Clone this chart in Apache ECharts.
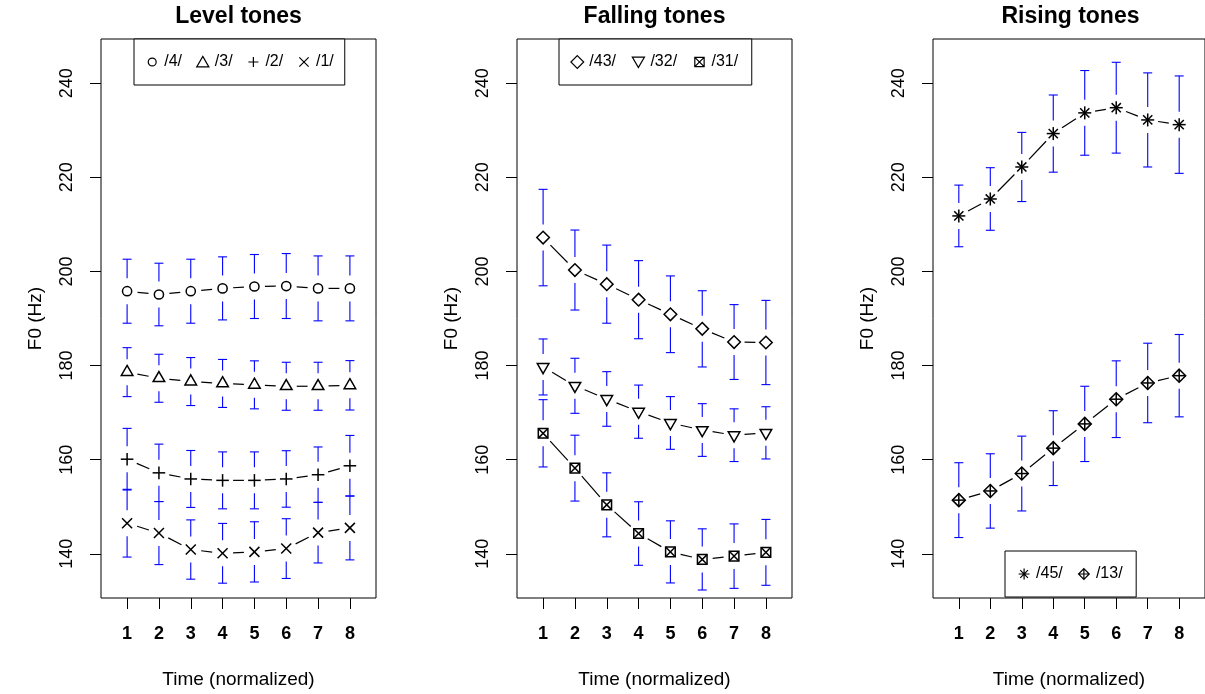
<!DOCTYPE html>
<html><head><meta charset="utf-8">
<script src="https://cdn.jsdelivr.net/npm/echarts@6/dist/echarts.min.js"></script>
<style>html,body{margin:0;padding:0;background:#fff}#c{width:1205px;height:694px}</style>
</head><body><div id="c"></div>
<script>
// ---------- data ----------
const time = [1, 2, 3, 4, 5, 6, 7, 8];
const yTicks = [140, 160, 180, 200, 220, 240];
const panelTitles = ['Level tones', 'Falling tones', 'Rising tones'];
const xAxisTitle = 'Time (normalized)';
const yAxisTitle = 'F0 (Hz)';

// Level tones
const tone4Mean = [195.8, 195.1, 195.8, 196.4, 196.8, 196.9, 196.4, 196.4];
const tone4Err  = [6.8, 6.65, 6.8, 6.7, 6.8, 6.9, 6.9, 6.9];
const tone3Mean = [178.6, 177.3, 176.6, 176.2, 175.9, 175.6, 175.6, 175.8];
const tone3Err  = [5.2, 5.1, 5.1, 5.1, 5.1, 5.1, 5.1, 5.25];
const tone2Mean = [160.1, 157.2, 155.9, 155.6, 155.6, 155.9, 156.8, 158.7];
const tone2Err  = [6.55, 6.1, 6.05, 6.05, 6.05, 6.0, 5.9, 6.45];
const tone1Mean = [146.5, 144.4, 140.9, 140.1, 140.4, 141.1, 144.5, 145.5];
const tone1Err  = [7.2, 6.7, 6.3, 6.35, 6.4, 6.35, 6.45, 6.8];
// Falling tones
const tone43Mean = [207.2, 200.3, 197.3, 194.0, 190.9, 187.8, 185.0, 184.9];
const tone43Err  = [10.25, 8.5, 8.3, 8.3, 8.15, 8.1, 7.95, 8.95];
const tone32Mean = [179.7, 175.7, 172.9, 170.2, 167.8, 166.3, 165.2, 165.7];
const tone32Err  = [5.95, 5.85, 5.8, 5.65, 5.6, 5.6, 5.6, 5.55];
const tone31Mean = [165.6, 158.2, 150.4, 144.3, 140.4, 138.8, 139.5, 140.3];
const tone31Err  = [7.15, 7.0, 6.8, 6.75, 6.6, 6.5, 6.85, 7.0];
// Rising tones
const tone45Mean = [211.8, 215.4, 222.2, 229.3, 233.7, 234.8, 232.2, 231.2];
const tone45Err  = [6.55, 6.65, 7.35, 8.2, 9.0, 9.65, 10.0, 10.35];
const tone13Mean = [151.4, 153.35, 157.05, 162.45, 167.6, 172.85, 176.3, 177.85];
const tone13Err  = [7.95, 7.9, 7.95, 7.95, 8.0, 8.15, 8.45, 8.75];

const toneNames = [
  ['/4/', '/3/', '/2/', '/1/'],
  ['/43/', '/32/', '/31/'],
  ['/45/', '/13/']
];

// ---------- styling / layout ----------
const FONT = '"Liberation Sans", Arial, Helvetica, sans-serif';
const gridLeft = [101, 517, 933];
const GRID_TOP = 39, GRID_W = 275, GRID_H = 559;
const X_MIN = 0.18, X_MAX = 8.82, Y_MIN = 130.6, Y_MAX = 249.4;
const ERR_GAP = 13, CAP = 4.5, LINE_GAP = 10.5;

const toneDefs = [
  {name: toneNames[0][0], panel: 0, mean: tone4Mean, err: tone4Err, marker: 'circle'},
  {name: toneNames[0][1], panel: 0, mean: tone3Mean, err: tone3Err, marker: 'triUp'},
  {name: toneNames[0][2], panel: 0, mean: tone2Mean, err: tone2Err, marker: 'plus'},
  {name: toneNames[0][3], panel: 0, mean: tone1Mean, err: tone1Err, marker: 'cross'},
  {name: toneNames[1][0], panel: 1, mean: tone43Mean, err: tone43Err, marker: 'diamond'},
  {name: toneNames[1][1], panel: 1, mean: tone32Mean, err: tone32Err, marker: 'triDown'},
  {name: toneNames[1][2], panel: 1, mean: tone31Mean, err: tone31Err, marker: 'squareX'},
  {name: toneNames[2][0], panel: 2, mean: tone45Mean, err: tone45Err, marker: 'asterisk'},
  {name: toneNames[2][1], panel: 2, mean: tone13Mean, err: tone13Err, marker: 'diamondPlus'}
];

const F = 'M0,0 L0,0 M12,12 L12,12 ';
const legendIcons = {
  circle: F + 'M2.6,6 A3.4,3.4 0 1,0 9.4,6 A3.4,3.4 0 1,0 2.6,6 Z',
  triUp: F + 'M6,1.2 L11.2,10.2 L0.8,10.2 Z',
  plus: F + 'M1.7,6 L10.3,6 M6,1.7 L6,10.3',
  cross: F + 'M2,2 L10,10 M2,10 L10,2',
  diamond: F + 'M6,0.5 L11.5,6 L6,11.5 L0.5,6 Z',
  triDown: F + 'M0.8,1.8 L11.2,1.8 L6,10.8 Z',
  squareX: F + 'M2,2 L10,2 L10,10 L2,10 Z M2,2 L10,10 M2,10 L10,2',
  asterisk: F + 'M1.3,6 L10.7,6 M6,1.3 L6,10.7 M2.7,2.7 L9.3,9.3 M2.7,9.3 L9.3,2.7',
  diamondPlus: F + 'M6,1.4 L10.6,6 L6,10.6 L1.4,6 Z M1.4,6 L10.6,6 M6,1.4 L6,10.6'
};

function markerEls(kind, cx, cy) {
  const st = {stroke: '#000', fill: 'none', lineWidth: 1.5};
  const seg = (x1, y1, x2, y2) => ({type: 'line', shape: {x1: cx + x1, y1: cy + y1, x2: cx + x2, y2: cy + y2}, style: st});
  const poly = pts => ({type: 'polygon', shape: {points: pts.map(p => [cx + p[0], cy + p[1]])}, style: st});
  switch (kind) {
    case 'circle': return [{type: 'circle', shape: {cx: cx, cy: cy, r: 4.6}, style: st}];
    case 'triUp': { const s = 4.3; return [poly([[0, -1.555 * s], [1.347 * s, 0.778 * s], [-1.347 * s, 0.778 * s]])]; }
    case 'triDown': { const s = 4.3; return [poly([[0, 1.555 * s], [1.347 * s, -0.778 * s], [-1.347 * s, -0.778 * s]])]; }
    case 'plus': return [seg(-6.3, 0, 6.3, 0), seg(0, -6.3, 0, 6.3)];
    case 'cross': return [seg(-5, -5, 5, 5), seg(-5, 5, 5, -5)];
    case 'diamond': return [poly([[0, -6.3], [6.3, 0], [0, 6.3], [-6.3, 0]])];
    case 'squareX': { const h = 4.8; return [poly([[-h, -h], [h, -h], [h, h], [-h, h]]), seg(-h, -h, h, h), seg(-h, h, h, -h)]; }
    case 'asterisk': return [seg(-6.5, 0, 6.5, 0), seg(0, -6.5, 0, 6.5), seg(-4.6, -4.6, 4.6, 4.6), seg(-4.6, 4.6, 4.6, -4.6)];
    case 'diamondPlus': return [poly([[0, -6.5], [6.5, 0], [0, 6.5], [-6.5, 0]]), seg(-6.5, 0, 6.5, 0), seg(0, -6.5, 0, 6.5)];
  }
  return [];
}

function makeRenderItem(def) {
  return function (params, api) {
    const i = params.dataIndex;
    const x = api.value(0), m = api.value(1), e = api.value(2);
    const p = api.coord([x, m]);
    const pu = api.coord([x, m + e]);
    const pl = api.coord([x, m - e]);
    const blue = {stroke: '#0000ff', lineWidth: 1.1};
    const black = {stroke: '#000', lineWidth: 1.2};
    const ch = [];
    if (p[1] - pu[1] > ERR_GAP) {
      ch.push({type: 'line', shape: {x1: p[0], y1: p[1] - ERR_GAP, x2: p[0], y2: pu[1]}, style: blue});
      ch.push({type: 'line', shape: {x1: p[0] - CAP, y1: pu[1], x2: p[0] + CAP, y2: pu[1]}, style: blue});
    }
    if (pl[1] - p[1] > ERR_GAP) {
      ch.push({type: 'line', shape: {x1: p[0], y1: p[1] + ERR_GAP, x2: p[0], y2: pl[1]}, style: blue});
      ch.push({type: 'line', shape: {x1: p[0] - CAP, y1: pl[1], x2: p[0] + CAP, y2: pl[1]}, style: blue});
    }
    if (i < time.length - 1) {
      const q = api.coord([time[i + 1], def.mean[i + 1]]);
      const dx = q[0] - p[0], dy = q[1] - p[1], d = Math.hypot(dx, dy);
      if (d > 2 * LINE_GAP) {
        const ux = dx / d, uy = dy / d;
        ch.push({type: 'line', shape: {x1: p[0] + ux * LINE_GAP, y1: p[1] + uy * LINE_GAP, x2: q[0] - ux * LINE_GAP, y2: q[1] - uy * LINE_GAP}, style: black});
      }
    }
    markerEls(def.marker, p[0], p[1]).forEach(el => ch.push(el));
    return {type: 'group', children: ch};
  };
}

const grids = [], xAxes = [], yAxes = [], titles = [];
for (let k = 0; k < 3; k++) {
  grids.push({left: gridLeft[k], top: GRID_TOP, width: GRID_W, height: GRID_H, show: true,
    borderColor: '#000', borderWidth: 1, backgroundColor: 'transparent', containLabel: false});
  xAxes.push({type: 'value', gridIndex: k, min: X_MIN, max: X_MAX,
    name: xAxisTitle, nameLocation: 'middle', nameGap: 72,
    nameTextStyle: {fontFamily: FONT, fontSize: 19, color: '#000'},
    axisLine: {show: false},
    axisTick: {show: true, customValues: time, length: 11, lineStyle: {color: '#000', width: 1}},
    axisLabel: {customValues: time, fontFamily: FONT, fontSize: 18, fontWeight: 'bold', color: '#000', margin: 27},
    splitLine: {show: false}});
  yAxes.push({type: 'value', gridIndex: k, min: Y_MIN, max: Y_MAX,
    name: yAxisTitle, nameLocation: 'middle', nameGap: 56,
    nameTextStyle: {fontFamily: FONT, fontSize: 19, color: '#000'},
    axisLine: {show: false},
    axisTick: {show: true, customValues: yTicks, length: 11, lineStyle: {color: '#000', width: 1}},
    axisLabel: {customValues: yTicks, rotate: 90, fontFamily: FONT, fontSize: 18, color: '#000', margin: 25},
    splitLine: {show: false}});
  titles.push({text: panelTitles[k], left: gridLeft[k] + GRID_W / 2, top: 5, textAlign: 'center', padding: 0,
    textStyle: {fontFamily: FONT, fontSize: 23, fontWeight: 'bold', color: '#000'}});
}

const series = toneDefs.map(def => ({
  name: def.name, type: 'custom', coordinateSystem: 'cartesian2d',
  xAxisIndex: def.panel, yAxisIndex: def.panel,
  itemStyle: {color: '#000'},
  encode: {x: 0, y: 1},
  data: time.map((t, i) => [t, def.mean[i], def.err[i]]),
  renderItem: makeRenderItem(def)
}));

const legendPos = [
  {left: 134, top: 39, itemGap: 13.2, padding: [15, 11, 15, 10.6]},
  {left: 559, top: 39, itemGap: 14.8, padding: [15, 13.6, 15, 10.7]},
  {left: 1005, top: 551, itemGap: 13.5, padding: [15, 13.6, 15, 11.5]}
];
const legends = legendPos.map((lp, k) => ({
  left: lp.left, top: lp.top, orient: 'horizontal', itemGap: lp.itemGap, padding: lp.padding,
  itemWidth: 14, itemHeight: 14, selectedMode: false,
  borderColor: '#000', borderWidth: 1, backgroundColor: '#fff',
  textStyle: {fontFamily: FONT, fontSize: 16, color: '#000'},
  itemStyle: {color: 'transparent', borderColor: '#000', borderWidth: 1.2},
  data: toneDefs.filter(d => d.panel === k).map(d => ({name: d.name, icon: 'path://' + legendIcons[d.marker]}))
}));

const chart = echarts.init(document.getElementById('c'), null, {renderer: 'canvas'});
chart.setOption({
  animation: false,
  backgroundColor: '#fff',
  title: titles,
  grid: grids,
  xAxis: xAxes,
  yAxis: yAxes,
  legend: legends,
  series: series
});
</script>
</body></html>
